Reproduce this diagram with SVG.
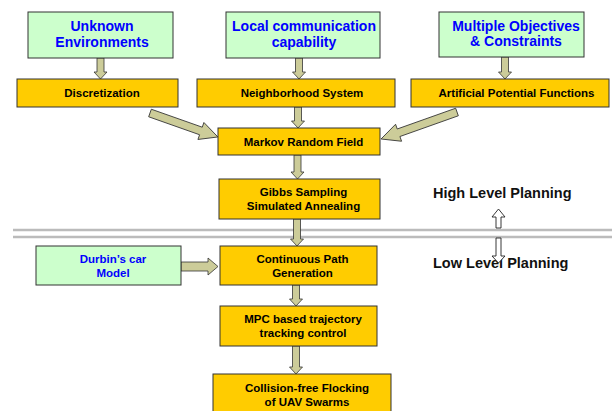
<svg xmlns="http://www.w3.org/2000/svg" width="612" height="411" viewBox="0 0 612 411">
<style>
.g{fill:#ccffcc;stroke:#333;stroke-width:1}
.o{fill:#ffcc00;stroke:#333;stroke-width:1}
.a{fill:#cccc99;stroke:#333;stroke-width:0.8}
.h{fill:#fff;stroke:#222;stroke-width:0.9}
.tb{font-family:"Liberation Sans",Arial,sans-serif;font-weight:bold;font-size:14px;fill:#0000ff;text-anchor:middle}
.tb2{font-family:"Liberation Sans",Arial,sans-serif;font-weight:bold;font-size:11.5px;fill:#0000ff;text-anchor:middle}
.tk{font-family:"Liberation Sans",Arial,sans-serif;font-weight:bold;font-size:11.5px;fill:#000;text-anchor:middle}
.tl{font-family:"Liberation Sans",Arial,sans-serif;font-weight:bold;font-size:14.5px;fill:#111}
.sep{stroke:#bbbbbb;stroke-width:2.5}
</style>
<rect width="612" height="411" fill="#fff"/>
<g id="separator">
<line class="sep" x1="13" y1="230" x2="612" y2="230"/>
<line class="sep" x1="13" y1="237" x2="612" y2="237"/>
</g>
<g id="connectors">
<path class="a" d="M97,58 H104 V72 H107 L100.5,79 L94,72 H97 Z"/>
<path class="a" d="M295.5,58 H302.5 V72 H305.5 L299,79 L292.5,72 H295.5 Z"/>
<path class="a" d="M501.5,57 H508.5 V72 H511.5 L505,79 L498.5,72 H501.5 Z"/>
<path class="a" d="M294.5,107 H301.5 V121 H304.5 L298,128 L291.5,121 H294.5 Z"/>
<path class="a" d="M294,155 H301 V172 H304 L297.5,179 L291,172 H294 Z"/>
<path class="a" d="M293.5,219 H300.5 V239 H303.5 L297,246 L290.5,239 H293.5 Z"/>
<path class="a" d="M292.5,285 H299.5 V299 H302.5 L296,306 L289.5,299 H292.5 Z"/>
<path class="a" d="M292.5,346 H299.5 V367 H302.5 L296,374 L289.5,367 H292.5 Z"/>
<path class="a" d="M181,262 H208 V258 L218,266.5 L208,275 V271 H181 Z"/>
<path class="a" transform="translate(150,113) rotate(19.44)" d="M0,-4 H54 V-9 L72,0 L54,9 V4 H0 Z"/>
<path class="a" transform="translate(457,112) rotate(160.44)" d="M0,-4 H62 V-9 L80.6,0 L62,9 V4 H0 Z"/>
</g>
<g id="unknown-env">
<rect class="g" x="28" y="12" width="145" height="46"/>
<text class="tb" x="102" y="31">Unknown</text>
<text class="tb" x="102" y="47">Environments</text>
</g>
<g id="local-comm">
<rect class="g" x="226" y="12" width="154" height="46"/>
<text class="tb" x="304" y="31">Local communication</text>
<text class="tb" x="304" y="47">capability</text>
</g>
<g id="multi-obj">
<rect class="g" x="439" y="12" width="145" height="45"/>
<text class="tb" x="516" y="31">Multiple Objectives</text>
<text class="tb" x="516" y="46">&amp; Constraints</text>
</g>
<g id="discretization">
<rect class="o" x="17" y="79" width="161" height="28"/>
<text class="tk" x="102" y="97">Discretization</text>
</g>
<g id="neighborhood">
<rect class="o" x="197" y="79" width="198" height="28"/>
<text class="tk" x="302" y="97">Neighborhood System</text>
</g>
<g id="apf">
<rect class="o" x="411" y="79" width="198" height="28"/>
<text class="tk" x="516.5" y="97">Artificial Potential Functions</text>
</g>
<g id="mrf">
<rect class="o" x="218" y="128" width="162" height="27"/>
<text class="tk" x="303.5" y="146">Markov Random Field</text>
</g>
<g id="gibbs">
<rect class="o" x="219" y="179" width="161" height="40"/>
<text class="tk" x="303.5" y="196">Gibbs Sampling</text>
<text class="tk" x="303.5" y="210">Simulated Annealing</text>
</g>
<g id="durbin">
<rect class="g" x="36" y="246" width="145" height="39"/>
<text class="tb2" x="113" y="263">Durbin’s car</text>
<text class="tb2" x="113" y="277">Model</text>
</g>
<g id="continuous">
<rect class="o" x="220" y="246" width="157" height="39"/>
<text class="tk" x="302.5" y="263">Continuous Path</text>
<text class="tk" x="302.5" y="277">Generation</text>
</g>
<g id="mpc">
<rect class="o" x="220" y="306" width="157" height="40"/>
<text class="tk" x="303" y="323">MPC based trajectory</text>
<text class="tk" x="303" y="337">tracking control</text>
</g>
<g id="collision">
<rect class="o" x="213" y="374" width="178" height="42"/>
<text class="tk" x="307" y="392">Collision-free Flocking</text>
<text class="tk" x="307" y="406">of UAV Swarms</text>
</g>
<g id="levels">
<text class="tl" x="433" y="198">High Level Planning</text>
<text class="tl" x="433" y="268">Low Level Planning</text>
<path class="h" d="M496,228 H501 V217 H505 L498.5,209 L492,217 H496 Z"/>
<path class="h" d="M496,238 H501 V256 H505 L498.5,263 L492,256 H496 Z"/>
</g>
</svg>
